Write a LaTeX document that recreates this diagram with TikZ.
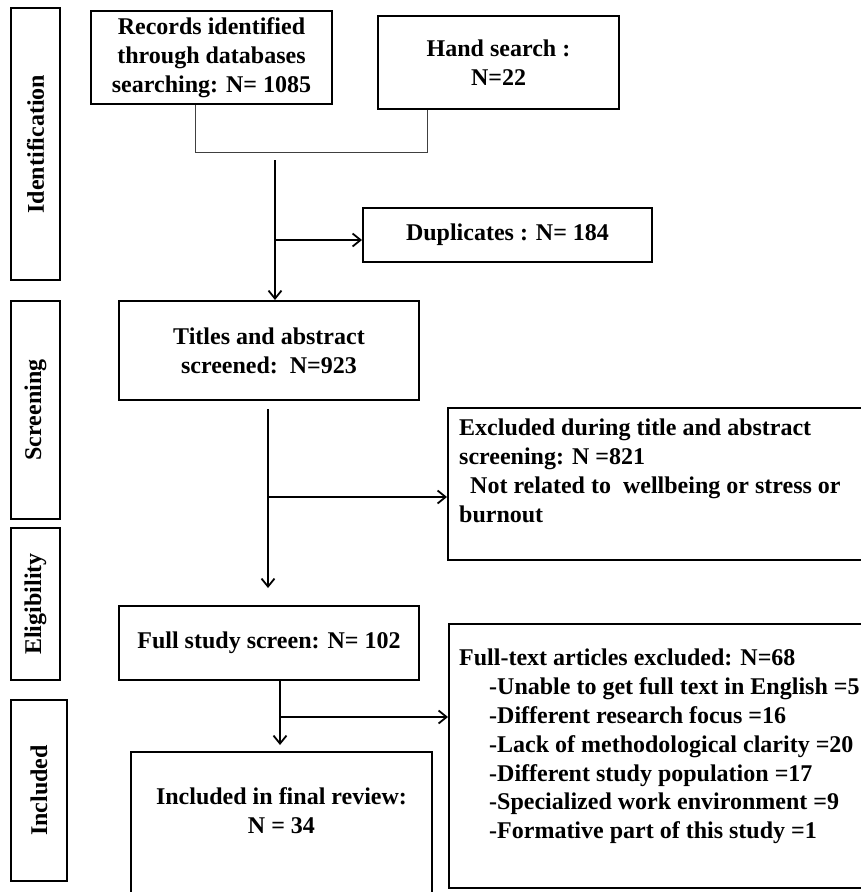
\documentclass[tikz,border=0pt]{standalone}
\usepackage{fontspec}
\setmainfont{Liberation Serif}
\usetikzlibrary{arrows.meta}
\begin{document}
\begin{tikzpicture}[x=1pt,y=-1pt,
  box/.style={draw, line width=2pt, inner sep=0pt, align=center,
    font=\bfseries\fontsize{24}{28.8}\selectfont},
  lblbox/.style={box, rotate=90},
  txt/.style={inner sep=0pt, align=left, anchor=north west,
    font=\bfseries\fontsize{24}{28.8}\selectfont},
  ctxt/.style={inner sep=0pt, align=center,
    font=\bfseries\fontsize{24}{28.8}\selectfont},
  arr/.style={line width=1.8pt, -{Straight Barb[length=8pt,width=13pt,line width=1.8pt]}},
  plain/.style={line width=1.8pt},
  thinline/.style={line width=0.9pt, draw=black!75}]
\useasboundingbox (0,0) rectangle (861,892);
\clip (0,0) rectangle (861,892);
% stage labels
\node[lblbox, minimum width=272pt, minimum height=49pt] (lid) at (35.5,144) {Identification};
\node[lblbox, minimum width=218pt, minimum height=49pt] (lsc) at (35.5,410) {Screening};
\node[lblbox, minimum width=152pt, minimum height=49pt] (lel) at (35.5,604) {Eligibility};
\node[lblbox, minimum width=181pt, minimum height=56pt] (lin) at (39,790.5) {Included};
% boxes
\node[box, minimum width=241pt, minimum height=93pt] (rec) at (211.5,57.5)
  {Records identified\\through databases\\searching: N= 1085};
\node[box, minimum width=241pt, minimum height=93pt] (hand) at (498.5,62.5)
  {Hand search :\\N=22};
\node[box, minimum width=289pt, minimum height=54pt] (dup) at (507.5,235)
  {Duplicates : N= 184};
\node[box, minimum width=300pt, minimum height=99pt] (tit) at (269,350.5)
  {Titles and abstract\\screened:\ \ N=923};
\node[box, minimum width=452pt, minimum height=152pt] (exc) at (674,484) {};
\node[txt] (exct) at (459,419)
  {Excluded during title and abstract\\screening: N =821\\\hspace*{11pt}Not related to\ \ wellbeing or stress or\\burnout};
\node[box, minimum width=300pt, minimum height=74pt] (full) at (269,643)
  {Full study screen: N= 102};
\node[box, minimum width=451pt, minimum height=264pt] (ftx) at (674.5,756) {};
\node[txt] (ftxt) at (459,649)
  {Full-text articles excluded: N=68\\
   \hspace*{30pt}-Unable to get full text in English =5\\
   \hspace*{30pt}-Different research focus =16\\
   \hspace*{30pt}-Lack of methodological clarity =20\\
   \hspace*{30pt}-Different study population =17\\
   \hspace*{30pt}-Specialized work environment =9\\
   \hspace*{30pt}-Formative part of this study =1};
\node[box, minimum width=301pt, minimum height=178pt] (fin) at (281.5,841) {};
\node[ctxt] (fint) at (281.5,811) {Included in final review:\\N = 34};
% connectors
\coordinate (c1) at (195,152);
\coordinate (c2) at (427,152);
\draw[thinline] (rec.south -| c1) -- (c1) -- (c2) -- (hand.south -| c2);
\coordinate (m0) at (275,160);
\coordinate (m1) at (275,240);
\draw[arr] (m0) -- (tit.north -| m0);
\draw[arr] (m1) -- (m1 -| dup.west);
\coordinate (s0) at (268,409);
\coordinate (s1) at (268,497);
\coordinate (s2) at (268,588);
\draw[arr] (s0) -- (s2);
\draw[arr] (s1) -- (s1 -| exc.west);
\coordinate (f1) at (280,717);
\coordinate (f2) at (280,745);
\draw[arr] (full.south -| f1) -- (f2);
\draw[arr] (f1) -- (f1 -| ftx.west);
\end{tikzpicture}
\end{document}
